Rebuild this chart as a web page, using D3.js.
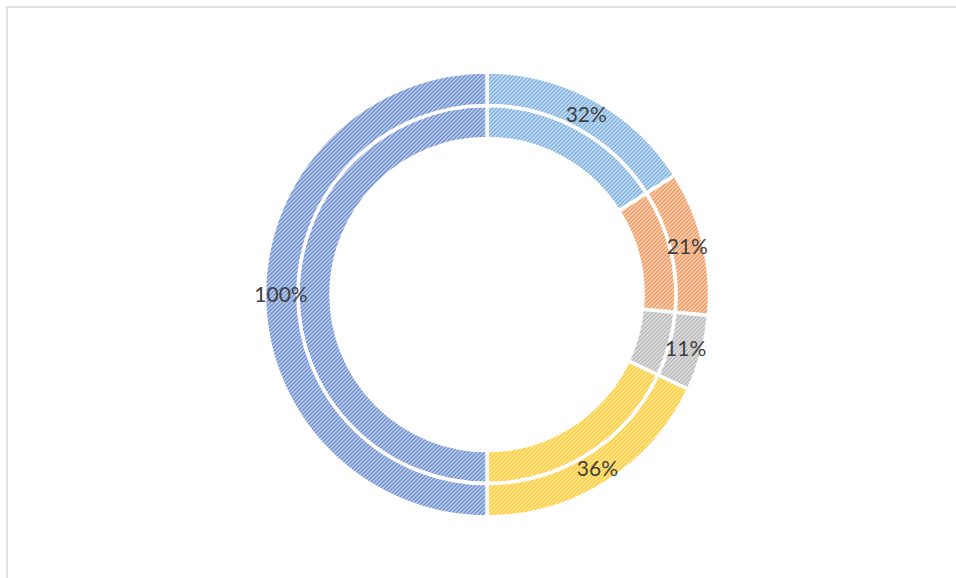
<!DOCTYPE html>
<html>
<head>
<meta charset="utf-8">
<script src="https://cdnjs.cloudflare.com/ajax/libs/d3/7.8.5/d3.min.js"></script>
<style>
  html, body { margin: 0; padding: 0; background: #fff; }
  svg { display: block; }
</style>
</head>
<body>
<div id="chart"></div>
<script>
// data
const categories = ['Part 1', 'Part 2', 'Part 3', 'Part 4', 'Total'];
const outerValues = [0.32, 0.21, 0.11, 0.36, 1.00];
const innerValues = [0.32, 0.21, 0.11, 0.36, 1.00];
const fgColors = ['#5B9BD5', '#ED7D31', '#A5A5A5', '#FFC000', '#4472C4'];
const bgColors = ['#c9def2', '#f9d4bc', '#e1e1e1', '#ffe7a3', '#c3cfec'];

const width = 956;
const height = 578;
const cx = 487, cy = 294.5;

const svg = d3.select('#chart').append('svg')
    .attr('width', width)
    .attr('height', height);

// chart area border (runs off the right and bottom edge)
svg.append('rect')
    .attr('x', 7).attr('y', 7)
    .attr('width', 960).attr('height', 600)
    .attr('fill', 'none')
    .attr('stroke', '#d9d9d9')
    .attr('stroke-width', 1.5);

// upward diagonal pattern fills, one per category
const defs = svg.append('defs');
categories.forEach((c, i) => {
    const p = defs.append('pattern')
        .attr('id', 'pat' + i)
        .attr('patternUnits', 'userSpaceOnUse')
        .attr('width', 4).attr('height', 4);
    p.append('rect').attr('width', 4).attr('height', 4).attr('fill', bgColors[i]);
    const rows = [[2, 3], [1, 2], [0, 1], [3, 0]];
    rows.forEach((cols, r) => {
        cols.forEach(col => {
            p.append('rect')
                .attr('x', col).attr('y', r)
                .attr('width', 1).attr('height', 1)
                .attr('fill', fgColors[i])
                .attr('fill-opacity', col === cols[0] ? 0.85 : 0.55);
        });
    });
});

const pie = d3.pie().sort(null).value(d => d);

const outerArc = d3.arc().innerRadius(189).outerRadius(222.5);
const innerArc = d3.arc().innerRadius(156).outerRadius(189);
const labelArc = d3.arc().innerRadius(206).outerRadius(206);

const g = svg.append('g').attr('transform', `translate(${cx},${cy})`);

g.selectAll('path.inner')
    .data(pie(innerValues))
    .join('path')
    .attr('class', 'inner')
    .attr('d', innerArc)
    .attr('fill', (d, i) => `url(#pat${i})`)
    .attr('stroke', '#fff')
    .attr('stroke-width', 3.5)
    .attr('stroke-linejoin', 'miter');

g.selectAll('path.outer')
    .data(pie(outerValues))
    .join('path')
    .attr('class', 'outer')
    .attr('d', outerArc)
    .attr('fill', (d, i) => `url(#pat${i})`)
    .attr('stroke', '#fff')
    .attr('stroke-width', 3.5)
    .attr('stroke-linejoin', 'miter');

g.selectAll('text.lbl')
    .data(pie(outerValues))
    .join('text')
    .attr('class', 'lbl')
    .attr('transform', d => `translate(${labelArc.centroid(d)})`)
    .attr('text-anchor', 'middle')
    .attr('dy', '0.36em')
    .attr('font-family', 'Lato, "Open Sans", sans-serif')
    .attr('font-size', '21px')
    .attr('fill', '#404040')
    .text(d => d3.format('.0%')(d.data));
</script>
</body>
</html>
